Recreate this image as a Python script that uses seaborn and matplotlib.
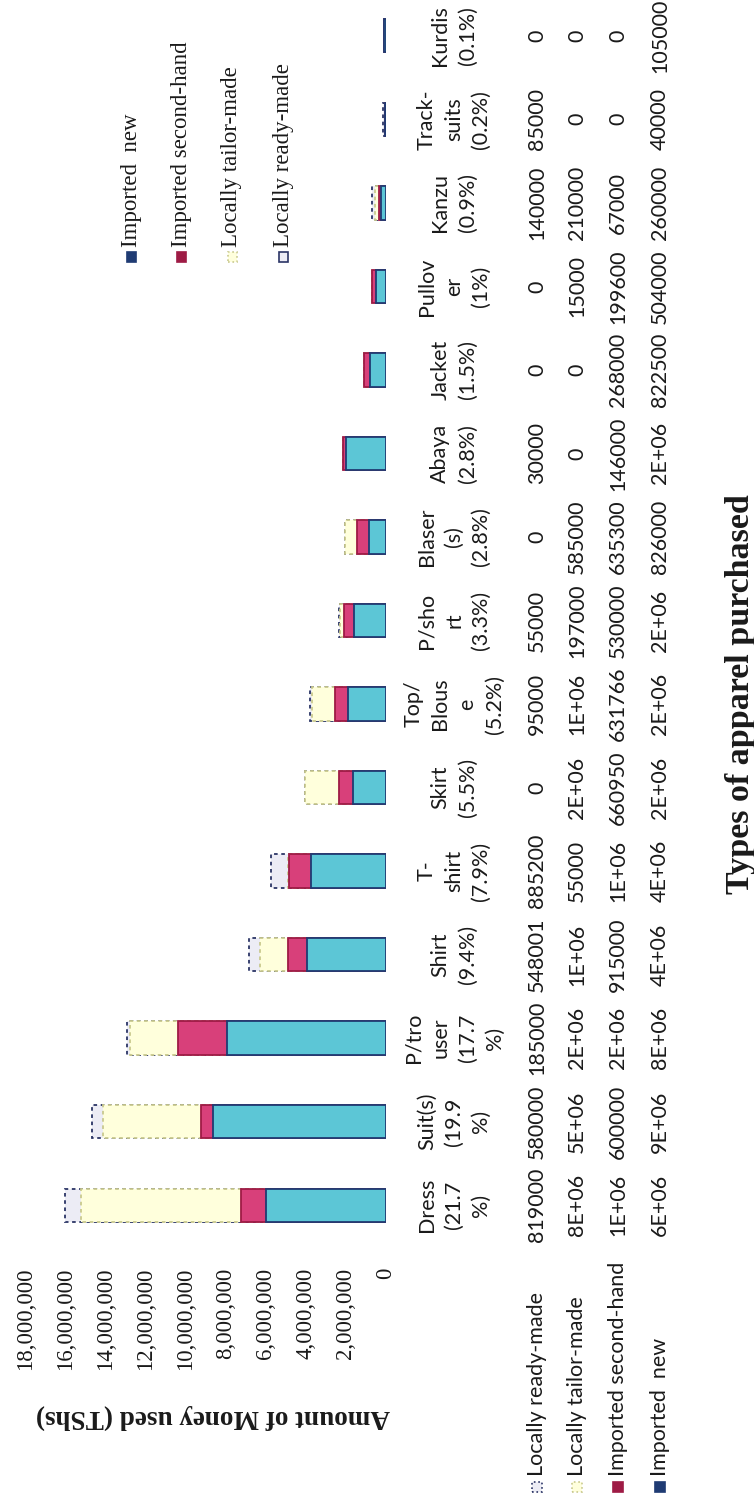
import matplotlib
matplotlib.use("Agg")
import matplotlib.pyplot as plt
import matplotlib.transforms as mtransforms
from matplotlib.patches import Rectangle
import pandas as pd
import seaborn as sns

# ---- data (Dress first, as in the data table) ----
categories = ["Dress", "Suit(s)", "P/trouser", "Shirt", "T-shirt", "Skirt",
              "Top/Blouse", "P/short", "Blaser(s)", "Abaya", "Jacket",
              "Pullover", "Kanzu", "Track-suits", "Kurdis"]
header_labels = ["Dress\n(21.7\n%)", "Suit(s)\n(19.9\n%)", "P/tro\nuser\n(17.7\n%)",
                 "Shirt\n(9.4%)", "T-\nshirt\n(7.9%)", "Skirt\n(5.5%)",
                 "Top/\nBlous\ne\n(5.2%)", "P/sho\nrt\n(3.3%)", "Blaser\n(s)\n(2.8%)",
                 "Abaya\n(2.8%)", "Jacket\n(1.5%)", "Pullov\ner\n(1%)",
                 "Kanzu\n(0.9%)", "Track-\nsuits\n(0.2%)", "Kurdis\n(0.1%)"]
ready_made = [819000, 580000, 185000, 548001, 885200, 0, 95000, 55000, 0,
              30000, 0, 0, 140000, 85000, 0]
tailor_made = [7980000, 4870000, 2400000, 1420000, 55000, 1700000, 1130000,
               197000, 585000, 0, 0, 15000, 210000, 0, 0]
second_hand = [1250000, 600000, 2420000, 915000, 1080000, 660950, 631766,
               530000, 635300, 146000, 268000, 199600, 67000, 0, 0]
imported_new = [6000000, 8670000, 7970000, 3970000, 3750000, 1670000, 1920000,
                1580000, 826000, 1980000, 822500, 504000, 260000, 40000, 105000]

series_names = ["Locally ready-made", "Locally tailor-made",
                "Imported second-hand", "Imported  new"]
legend_names = ["Imported  new", "Imported second-hand",
                "Locally tailor-made", "Locally ready-made"]
tick_values = [0, 2e6, 4e6, 6e6, 8e6, 10e6, 12e6, 14e6, 16e6, 18e6]
tick_labels = ["0", "2,000,000", "4,000,000", "6,000,000", "8,000,000",
               "10,000,000", "12,000,000", "14,000,000", "16,000,000", "18,000,000"]

# ---- styles ----
new_fill, new_edge = "#5CC6D6", "#1F3B73"
sec_fill, sec_edge = "#D8407A", "#9E1B45"
tai_fill, tai_edge = "#FFFFDC", "#C9C98E"
rdy_fill, rdy_edge = "#ECECF5", "#2B3566"
text_col = "#1a1a1a"
table_font = ["Lato", "DejaVu Sans"]
serif_font = ["Liberation Serif", "DejaVu Serif"]
table_size = 15.5

sns.set_theme(style="white")
plt.rcParams["font.family"] = table_font

W, H = 754, 1504
fig = plt.figure(figsize=(W / 100, H / 100), dpi=100)
fig.patch.set_facecolor("white")

# value axis runs right-to-left on the page, categories top-to-bottom
x_max_px, x_zero_px = 26, 386
y_top_px, y_bot_px = -6, 1247
ax = fig.add_axes([x_max_px / W, 1 - y_bot_px / H,
                   (x_zero_px - x_max_px) / W, (y_bot_px - y_top_px) / H])

df = pd.DataFrame({"cat": categories, "new": imported_new,
                   "sec": second_hand, "tai": tailor_made, "rdy": ready_made})
df["c1"] = df["new"]
df["c2"] = df["c1"] + df["sec"]
df["c3"] = df["c2"] + df["tai"]
df["c4"] = df["c3"] + df["rdy"]
order = categories[::-1]

layers = [("c4", rdy_fill, rdy_edge, (0, (2, 2))),
          ("c3", tai_fill, tai_edge, (0, (2, 2))),
          ("c2", sec_fill, sec_edge, "-"),
          ("c1", new_fill, new_edge, "-")]
for col, fc, ec, ls in layers:
    sns.barplot(data=df, x=col, y="cat", order=order, orient="h", width=0.4,
                color=fc, saturation=1, edgecolor=ec, linewidth=1.3,
                linestyle=ls, errorbar=None, ax=ax)

ax.set_xlim(18e6, 0)
ax.set_ylim(len(order) - 0.5, -0.5)
for s in ax.spines.values():
    s.set_visible(False)
ax.set_yticks([])
ax.set_ylabel("")
ax.set_xticks(tick_values)
ax.set_xticklabels(tick_labels, rotation=90, fontfamily=serif_font,
                   fontsize=16.5, color=text_col)
ax.tick_params(axis="x", length=0, pad=15)
ax.set_xlabel("Amount of Money used (TShs)", rotation=180,
              fontfamily=serif_font, fontsize=19.5, fontweight="bold",
              color=text_col)
ax.xaxis.label.set_va("center")
ax.xaxis.set_label_coords(0.52, -(1417 - y_bot_px) / (y_bot_px - y_top_px))
ax.grid(False)

# ---- data table beside the bars ----
trans = mtransforms.blended_transform_factory(fig.transFigure, ax.transData)
row_x = [537, 577, 618, 660]
rows = [ready_made, tailor_made, second_hand, imported_new]


def fmt(v):
    return f"{v:.0E}" if v >= 1e6 else f"{int(v)}"


for i, cat in enumerate(categories):
    ypos = order.index(cat)
    ax.text(454 / W, ypos, header_labels[i], transform=trans, rotation=90,
            ha="center", va="center", multialignment="center",
            linespacing=1.45, fontsize=table_size, color=text_col,
            fontfamily=table_font)
    for rx, vals in zip(row_x, rows):
        ax.text(rx / W, ypos, fmt(vals[i]), transform=trans, rotation=90,
                ha="center", va="center", fontsize=table_size, color=text_col,
                fontfamily=table_font)


def px_rect(cx, cy, size, **kw):
    r = Rectangle(((cx - size / 2) / W, 1 - (cy + size / 2) / H),
                  size / W, size / H, transform=fig.transFigure, **kw)
    fig.add_artist(r)


row_keys = [(rdy_fill, rdy_edge, ":"), (tai_fill, tai_edge, ":"),
            (sec_edge, sec_edge, "-"), (new_edge, new_edge, "-")]
for rx, name, (fc, ec, ls) in zip(row_x, series_names, row_keys):
    fig.text(rx / W, 1 - 1476 / H, name, rotation=90, ha="center",
             va="bottom", fontsize=table_size, color=text_col,
             fontfamily=table_font)
    px_rect(rx, 1487, 10, facecolor=fc, edgecolor=ec, linewidth=1.2,
            linestyle=ls)

# ---- legend ----
leg_x = [131, 181, 232, 283]
leg_keys = [(new_edge, new_edge, "-"), (sec_edge, sec_edge, "-"),
            (tai_fill, tai_edge, ":"), (rdy_fill, rdy_edge, "-")]
for lx, name, (fc, ec, ls) in zip(leg_x, legend_names, leg_keys):
    fig.text(lx / W, 1 - 247 / H, name, rotation=90, ha="center", va="bottom",
             fontsize=16.5, color=text_col, fontfamily=serif_font)
    px_rect(lx, 257, 9, facecolor=fc, edgecolor=ec, linewidth=1.2,
            linestyle=ls)

# ---- axis title for the categories ----
fig.text(740 / W, 1 - 694 / H, "Types of apparel purchased", rotation=90,
         ha="center", va="center", fontsize=24.5, fontweight="bold",
         color=text_col, fontfamily=serif_font)

fig.savefig("out.png", dpi=100, facecolor="white")
